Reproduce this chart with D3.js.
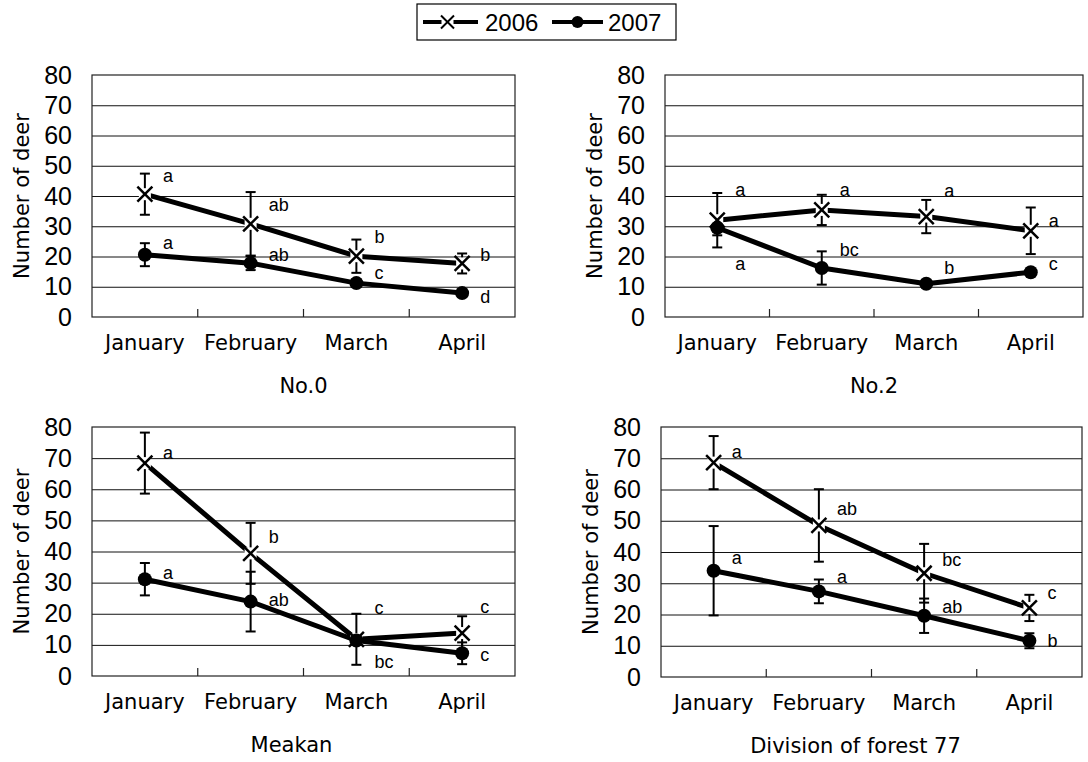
<!DOCTYPE html>
<html>
<head>
<meta charset="utf-8">
<script src="https://cdn.jsdelivr.net/npm/d3@7"></script>
<style>
  body { margin: 0; background: #fff; }
</style>
</head>
<body>
<div id="chart"></div>
<script>
// deer counts per month, four survey sites, 2006 vs 2007

const months = ["January", "February", "March", "April"];
const yTicks = [0, 10, 20, 30, 40, 50, 60, 70, 80];
const years = ["2006", "2007"];

// No.0
const no0_2006 = [40.6, 30.8, 20.1, 17.7];
const no0_2006_err = [6.8, 10.5, 5.5, 3.3];
const no0_2007 = [20.6, 17.8, 11.2, 7.9];
const no0_2007_err = [3.8, 2.3, 1.2, 1.2];
const no0_2006_sig = ["a", "ab", "b", "b"];
const no0_2006_sigAt = [46.6, 37, 26.6, 20.6];
const no0_2007_sig = ["a", "ab", "c", "d"];
const no0_2007_sigAt = [24.4, 20.6, 14.5, 6.6];

// No.2
const no2_2006 = [32, 35.4, 33.2, 28.5];
const no2_2006_err = [9, 5, 5.5, 7.7];
const no2_2007 = [29.5, 16.2, 11, 14.8];
const no2_2007_err = [2.5, 5.5, 1, 1];
const no2_2006_sig = ["a", "a", "a", "a"];
const no2_2006_sigAt = [42.2, 42.2, 41.8, 31.9];
const no2_2007_sig = ["a", "bc", "b", "c"];
const no2_2007_sigAt = [17.6, 22.4, 16.2, 17.6];

// Meakan
const meakan_2006 = [68.4, 39.4, 11.8, 13.8];
const meakan_2006_err = [9.8, 9.8, 8.2, 5.4];
const meakan_2007 = [31.1, 23.9, 11.4, 7.3];
const meakan_2007_err = [5.2, 9.6, 1, 3.5];
const meakan_2006_sig = ["a", "b", "c", "c"];
const meakan_2006_sigAt = [71.6, 44.8, 21.8, 22.3];
const meakan_2007_sig = ["a", "ab", "bc", "c"];
const meakan_2007_sigAt = [33.2, 24.5, 4.6, 6.8];

// Division of forest 77
const div77_2006 = [68.6, 48.5, 33.2, 22.1];
const div77_2006_err = [8.5, 11.6, 9.4, 4.2];
const div77_2007 = [34, 27.4, 19.6, 11.6];
const div77_2007_err = [14.3, 3.8, 5.5, 2.4];
const div77_2006_sig = ["a", "ab", "bc", "c"];
const div77_2006_sigAt = [72.2, 54, 37.6, 27];
const div77_2007_sig = ["a", "a", "ab", "b"];
const div77_2007_sigAt = [38.2, 32.1, 22.5, 11.6];

const panels = [
  { title: "No.0", box: [92, 75, 515, 317], titleDx: 0,
    s06: no0_2006, e06: no0_2006_err, s07: no0_2007, e07: no0_2007_err,
    l06: no0_2006_sig, a06: no0_2006_sigAt, l07: no0_2007_sig, a07: no0_2007_sigAt },
  { title: "No.2", box: [665, 75, 1083, 317], titleDx: 0,
    s06: no2_2006, e06: no2_2006_err, s07: no2_2007, e07: no2_2007_err,
    l06: no2_2006_sig, a06: no2_2006_sigAt, l07: no2_2007_sig, a07: no2_2007_sigAt },
  { title: "Meakan", box: [92, 427, 515, 676], titleDx: -12,
    s06: meakan_2006, e06: meakan_2006_err, s07: meakan_2007, e07: meakan_2007_err,
    l06: meakan_2006_sig, a06: meakan_2006_sigAt, l07: meakan_2007_sig, a07: meakan_2007_sigAt },
  { title: "Division of forest 77", box: [661, 427, 1082, 677], titleDx: -16,
    s06: div77_2006, e06: div77_2006_err, s07: div77_2007, e07: div77_2007_err,
    l06: div77_2006_sig, a06: div77_2006_sigAt, l07: div77_2007_sig, a07: div77_2007_sigAt }
];

const width = 1088;
const height = 762;
const wordFont = "'DejaVu Sans', sans-serif";
const numFont = "'Liberation Sans', Arial, sans-serif";

const svg = d3.select("#chart")
  .append("svg")
  .attr("width", width)
  .attr("height", height);

function xMark(sel, r) {
  sel.append("line").attr("x1", -r).attr("y1", -r).attr("x2", r).attr("y2", r);
  sel.append("line").attr("x1", -r).attr("y1", r).attr("x2", r).attr("y2", -r);
}

function drawPanel(p) {
  const [x0, y0, x1, y1] = p.box;
  const w = x1 - x0, h = y1 - y0;
  const g = svg.append("g").attr("transform", `translate(${x0},${y0})`);

  const x = d3.scaleBand().domain(months).range([0, w]);
  const y = d3.scaleLinear().domain([0, 80]).range([h, 0]);

  // gridlines
  g.append("g")
    .call(d3.axisLeft(y).tickValues(yTicks.slice(1, -1)).tickSize(-w).tickFormat(""))
    .call(a => a.select(".domain").remove())
    .selectAll("line").attr("stroke", "#111").attr("stroke-width", 1);

  // y tick labels
  g.append("g")
    .call(d3.axisLeft(y).tickValues(yTicks).tickSize(0).tickPadding(20))
    .call(a => a.select(".domain").remove())
    .selectAll("text")
    .attr("font-family", numFont)
    .attr("font-size", 25)
    .attr("fill", "#000");

  // month labels
  g.append("g")
    .attr("transform", `translate(0,${h})`)
    .call(d3.axisBottom(x).tickSize(0).tickPadding(18))
    .call(a => a.select(".domain").remove())
    .selectAll("text")
    .attr("font-family", wordFont)
    .attr("font-size", 21)
    .attr("fill", "#000");

  // frame
  g.append("rect")
    .attr("width", w).attr("height", h)
    .attr("fill", "none").attr("stroke", "#222").attr("stroke-width", 1.2);

  // category separator ticks
  g.selectAll(".sep")
    .data(months.slice(1))
    .join("line")
    .attr("x1", d => x(d)).attr("x2", d => x(d))
    .attr("y1", h).attr("y2", h - 8)
    .attr("stroke", "#222").attr("stroke-width", 1.2);

  const cx = d => x(d) + x.bandwidth() / 2;

  const series = [
    { vals: p.s06, errs: p.e06, sig: p.l06, at: p.a06, kind: "x" },
    { vals: p.s07, errs: p.e07, sig: p.l07, at: p.a07, kind: "dot" }
  ];

  // error bars
  series.forEach(s => {
    const eb = g.append("g").attr("stroke", "#000").attr("stroke-width", 2);
    months.forEach((m, i) => {
      const top = y(s.vals[i] + s.errs[i]), bot = y(s.vals[i] - s.errs[i]);
      eb.append("line").attr("x1", cx(m)).attr("x2", cx(m)).attr("y1", top).attr("y2", bot);
      eb.append("line").attr("x1", cx(m) - 5).attr("x2", cx(m) + 5).attr("y1", top).attr("y2", top);
      eb.append("line").attr("x1", cx(m) - 5).attr("x2", cx(m) + 5).attr("y1", bot).attr("y2", bot);
    });
  });

  // lines
  const line = d3.line().x((d, i) => cx(months[i])).y(d => y(d));
  series.forEach(s => {
    g.append("path")
      .datum(s.vals)
      .attr("d", line)
      .attr("fill", "none")
      .attr("stroke", "#000")
      .attr("stroke-width", 5)
      .attr("stroke-linejoin", "round");
  });

  // markers
  series.forEach(s => {
    months.forEach((m, i) => {
      if (s.kind === "dot") {
        g.append("circle").attr("cx", cx(m)).attr("cy", y(s.vals[i])).attr("r", 7).attr("fill", "#000");
      } else {
        const mk = g.append("g")
          .attr("transform", `translate(${cx(m)},${y(s.vals[i])})`)
          .attr("stroke", "#000").attr("stroke-width", 2.5);
        mk.append("rect").attr("x", -6).attr("y", -6).attr("width", 12).attr("height", 12)
          .attr("fill", "#fff").attr("stroke", "none");
        xMark(mk, 7.5);
      }
    });
  });

  // significance letters
  series.forEach(s => {
    g.selectAll(null)
      .data(s.sig)
      .join("text")
      .attr("x", (d, i) => cx(months[i]) + 18)
      .attr("y", (d, i) => y(s.at[i]))
      .attr("dy", "0.35em")
      .attr("font-family", numFont)
      .attr("font-size", 18)
      .text(d => d);
  });

  // y title
  svg.append("text")
    .attr("transform", `translate(${x0 - 70},${y0 + h / 2}) rotate(-90)`)
    .attr("text-anchor", "middle")
    .attr("dy", "0.35em")
    .attr("font-family", wordFont)
    .attr("font-size", 21)
    .text("Number of deer");

  // panel title
  svg.append("text")
    .attr("x", x0 + w / 2 + p.titleDx)
    .attr("y", y1 + 69)
    .attr("text-anchor", "middle")
    .attr("dy", "0.35em")
    .attr("font-family", wordFont)
    .attr("font-size", 21)
    .text(p.title);
}

panels.forEach(drawPanel);

// Legend
const leg = svg.append("g");
leg.append("rect")
  .attr("x", 417).attr("y", 4).attr("width", 259).attr("height", 36)
  .attr("fill", "#fff").attr("stroke", "#000").attr("stroke-width", 1.2);

const legItems = [
  { label: years[0], kind: "x", x1: 423, x2: 478, tx: 485 },
  { label: years[1], kind: "dot", x1: 552, x2: 603, tx: 608 }
];
legItems.forEach(it => {
  const ly = 22;
  leg.append("line")
    .attr("x1", it.x1).attr("x2", it.x2).attr("y1", ly).attr("y2", ly)
    .attr("stroke", "#000").attr("stroke-width", 4);
  const mx = (it.x1 + it.x2) / 2;
  if (it.kind === "dot") {
    leg.append("circle").attr("cx", mx).attr("cy", ly).attr("r", 6).attr("fill", "#000");
  } else {
    const mk = leg.append("g").attr("transform", `translate(${mx - 3},${ly})`)
      .attr("stroke", "#000").attr("stroke-width", 2);
    mk.append("rect").attr("x", -6).attr("y", -6).attr("width", 12).attr("height", 12)
      .attr("fill", "#fff").attr("stroke", "none");
    xMark(mk, 6.5);
  }
  leg.append("text")
    .attr("x", it.tx).attr("y", ly)
    .attr("dy", "0.36em")
    .attr("font-family", numFont)
    .attr("font-size", 24)
    .text(it.label);
});
</script>
</body>
</html>
